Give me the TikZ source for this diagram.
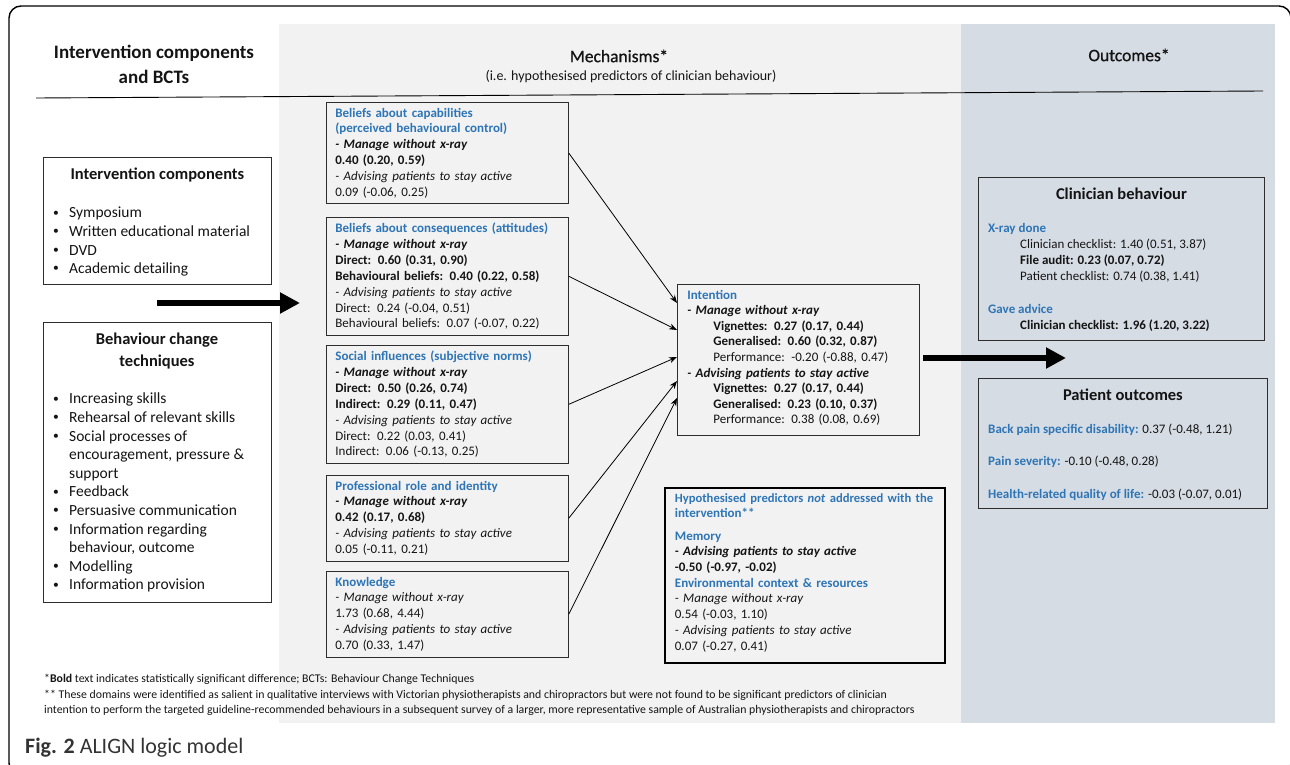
\documentclass[tikz,border=0pt]{standalone}
\usepackage{fontspec}
\usepackage{graphicx}
\setmainfont{Carlito}
\newfontfamily\hdrfont{Carlito}[FakeBold=0.8]
\usetikzlibrary{arrows.meta,calc}
\definecolor{blu}{RGB}{46,117,182}
\definecolor{panelgray}{RGB}{242,242,242}
\definecolor{panelblue}{RGB}{214,220,228}
\definecolor{boxline}{RGB}{45,45,45}
\definecolor{captxt}{RGB}{51,51,51}
\definecolor{txt}{RGB}{20,20,20}
\newcommand{\hd}[1]{\textcolor{blu}{\textbf{#1}}}
\newcommand{\bi}[1]{\textbf{\textit{#1}}}
\newcommand{\ind}{\hspace*{26pt}}
\newcommand{\bul}{\makebox[17pt][l]{\hspace*{1pt}\raisebox{0.12em}{\scalebox{0.75}{\textbullet}}}}
\newcommand{\cont}{\hspace*{17pt}}
\begin{document}
\begin{tikzpicture}[x=1pt,y=-1pt,
  mech/.style={draw=boxline, line width=0.8pt, fill=panelgray, anchor=north west,
    text width=224pt, align=left, inner xsep=9pt, inner ysep=5.5pt, text=txt,
    font=\fontsize{13}{15.9}\selectfont},
  outbox/.style={draw=boxline, line width=0.8pt, fill=panelblue, anchor=north west, inner sep=0pt},
  leftbox/.style={draw=boxline, line width=0.8pt, fill=white, anchor=north west, inner sep=0pt},
  boxtitle/.style={font=\fontsize{16.5}{22}\selectfont\bfseries, align=center, inner sep=0pt, text=txt},
  listtxt/.style={anchor=north west, inner sep=0pt, align=left, text=txt, font=\fontsize{15.5}{18.6}\selectfont},
  bodytxt/.style={anchor=north west, inner sep=0pt, align=left, text=txt, font=\fontsize{13}{16.2}\selectfont},
  arr/.style={line width=0.8pt, -{Stealth[length=8pt,width=6pt]}},
  bigarr/.style={line width=6pt, -{Triangle[length=20pt,width=20pt]}},
]
\useasboundingbox (0,0) rectangle (1290,765);
\begin{scope}
\clip (0,0) rectangle (1290,765);
\draw[line width=1.4pt, rounded corners=12pt] (9,6) rectangle (1291,775);
\end{scope}
\fill[panelgray] (279,24) rectangle (961,723);
\fill[panelblue] (961,24) rectangle (1275,723);

% headers
\node[font=\fontsize{19}{25}\selectfont\bfseries, align=center, inner sep=0pt, text=txt] (hleft) at (154,64.5) {Intervention components\\and BCTs};
\node[font=\hdrfont\fontsize{17.5}{20}\selectfont, inner sep=0pt, text=txt] (hmech) at (619,56) {Mechanisms*};
\node[font=\fontsize{14}{16}\selectfont, inner sep=0pt, text=txt] (hmech2) at (631,77) {(i.e. hypothesised predictors of clinician behaviour)};
\node[font=\hdrfont\fontsize{17.5}{20}\selectfont, inner sep=0pt, text=txt] (hout) at (1129,55) {Outcomes*};
\coordinate (hl1) at (36,98);
\coordinate (hl2) at (1263,91);
\draw[line width=0.9pt] (hl1) -- (hl2);

% left boxes
\node[leftbox, minimum width=228pt, minimum height=127pt] (ic) at (43,157) {};
\node[boxtitle] (ictitle) at ($(ic.north)+(0,18)$) {Intervention components};
\node[listtxt] (iclist) at (52,207) {\bul Symposium\\\bul Written educational material\\\bul DVD\\\bul Academic detailing};

\node[leftbox, minimum width=228pt, minimum height=280pt] (bct) at (43,322) {};
\node[boxtitle, anchor=north] (bcttitle) at (157,333) {Behaviour change\\techniques};
\node[listtxt] (bctlist) at (52,393) {\bul Increasing skills\\\bul Rehearsal of relevant skills\\\bul Social processes of\\\cont encouragement, pressure \&\\\cont support\\\bul Feedback\\\bul Persuasive communication\\\bul Information regarding\\\cont behaviour, outcome\\\bul Modelling\\\bul Information provision};

\coordinate (ta1) at (157,303);
\coordinate (ta2) at (300,303);
\draw[bigarr] (ta1) -- (ta2);

% mechanism boxes
\node[mech] (cap) at (326,102) {\hd{Beliefs about capabilities}\\
\hd{(perceived behavioural control)}\\
\bi{- Manage without x-ray}\\
\textbf{0.40 (0.20, 0.59)}\\
\textit{- Advising patients to stay active}\\
0.09 (-0.06, 0.25)};

\node[mech] (cons) at (326,217) {\hd{Beliefs about consequences (attitudes)}\\
\bi{- Manage without x-ray}\\
\textbf{Direct: 0.60 (0.31, 0.90)}\\
\textbf{Behavioural beliefs: 0.40 (0.22, 0.58)}\\
\textit{- Advising patients to stay active}\\
Direct: 0.24 (-0.04, 0.51)\\
Behavioural beliefs: 0.07 (-0.07, 0.22)};

\node[mech] (soc) at (326,345) {\hd{Social influences (subjective norms)}\\
\bi{- Manage without x-ray}\\
\textbf{Direct: 0.50 (0.26, 0.74)}\\
\textbf{Indirect: 0.29 (0.11, 0.47)}\\
\textit{- Advising patients to stay active}\\
Direct: 0.22 (0.03, 0.41)\\
Indirect: 0.06 (-0.13, 0.25)};

\node[mech] (prof) at (326,475) {\hd{Professional role and identity}\\
\bi{- Manage without x-ray}\\
\textbf{0.42 (0.17, 0.68)}\\
\textit{- Advising patients to stay active}\\
0.05 (-0.11, 0.21)};

\node[mech] (know) at (326,571) {\hd{Knowledge}\\
\textit{- Manage without x-ray}\\
1.73 (0.68, 4.44)\\
\textit{- Advising patients to stay active}\\
0.70 (0.33, 1.47)};

% intention
\node[mech, text width=222pt, inner xsep=10pt, font=\fontsize{13}{15.6}\selectfont] (int) at (677,284) {\hd{Intention}\\
\bi{- Manage without x-ray}\\
\ind\textbf{Vignettes: 0.27 (0.17, 0.44)}\\
\ind\textbf{Generalised: 0.60 (0.32, 0.87)}\\
\ind Performance: -0.20 (-0.88, 0.47)\\
\bi{- Advising patients to stay active}\\
\ind\textbf{Vignettes: 0.27 (0.17, 0.44)}\\
\ind\textbf{Generalised: 0.23 (0.10, 0.37)}\\
\ind Performance: 0.38 (0.08, 0.69)\par\vspace*{4pt}};

\draw[arr] (cap.east) -- ($(int.north west)+(0,19)$);
\draw[arr] (cons.east) -- ($(int.north west)+(0,46)$);
\draw[arr] (soc.east) -- ($(int.north west)+(0,73)$);
\draw[arr] (prof.east) -- ($(int.north west)+(0,97)$);
\draw[arr] (know.east) -- ($(int.north west)+(0,114)$);

% hypothesised
\node[mech, draw=black, line width=1.8pt, text width=260pt, inner xsep=10pt, font=\fontsize{13}{15.7}\selectfont] (hyp) at (664,487) {{\fontsize{12.6}{15.5}\selectfont\hd{Hypothesised predictors \textit{not} addressed with the}}\\
\hd{intervention**}\\[6.5pt]
\hd{Memory}\\
\bi{- Advising patients to stay active}\\
\textbf{-0.50 (-0.97, -0.02)}\\
\hd{Environmental context \& resources}\\
\textit{- Manage without x-ray}\\
0.54 (-0.03, 1.10)\\
\textit{- Advising patients to stay active}\\
0.07 (-0.27, 0.41)\par\vspace*{6pt}};

% outcomes
\node[outbox, minimum width=286pt, minimum height=163pt] (cb) at (978,177) {};
\node[boxtitle] (cbtitle) at ($(cb.north)+(0,17)$) {Clinician behaviour};
\node[bodytxt] (cbtxt) at (988,223) {\hd{X-ray done}\\
\hspace*{32pt}Clinician checklist: 1.40 (0.51, 3.87)\\
\hspace*{32pt}\textbf{File audit: 0.23 (0.07, 0.72)}\\
\hspace*{32pt}Patient checklist: 0.74 (0.38, 1.41)\\[16.2pt]
\hd{Gave advice}\\
\hspace*{32pt}\textbf{Clinician checklist: 1.96 (1.20, 3.22)}};

\coordinate (ta3) at (1066,358);
\draw[bigarr, shorten <=3pt] (int.east |- ta3) -- (ta3);

\node[outbox, minimum width=289pt, minimum height=130pt] (po) at (978,378) {};
\node[boxtitle] (potitle) at ($(po.north)+(0,17)$) {Patient outcomes};
\node[bodytxt] (potxt) at (988,424) {\hd{Back pain specific disability:} 0.37 (-0.48, 1.21)\\[16pt]
\hd{Pain severity:} -0.10 (-0.48, 0.28)\\[16pt]
\hd{Health-related quality of life:} -0.03 (-0.07, 0.01)};

% footnotes
\node[anchor=north west, inner sep=0pt, align=left, text=txt, font=\fontsize{11.8}{15.5}\selectfont] (foot) at (44,674) {*\textbf{Bold} text indicates statistically significant difference; BCTs: Behaviour Change Techniques\\
** These domains were identified as salient in qualitative interviews with Victorian physiotherapists and chiropractors but were not found to be significant predictors of clinician\\
intention to perform the targeted guideline-recommended behaviours in a subsequent survey of a larger, more representative sample of Australian physiotherapists and chiropractors};

\node[anchor=west, inner sep=0pt, text=captxt, font=\fontsize{22}{26}\selectfont] (cap2) at (25,748) {\textbf{Fig. 2} ALIGN logic model};
\end{tikzpicture}
\end{document}
